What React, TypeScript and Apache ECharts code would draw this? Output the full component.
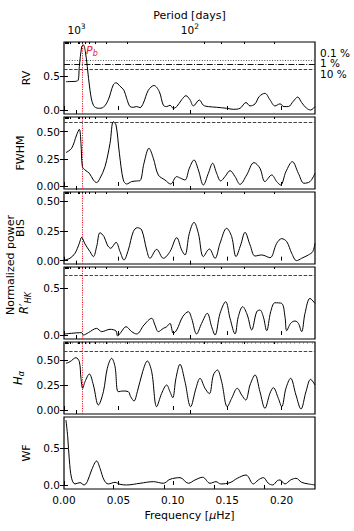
import React, { useEffect, useRef } from "react";
import * as echarts from "echarts";

// ---------- axis ranges & ticks ----------
const FREQ_MIN = 0;
const FREQ_MAX = 0.2307;
const freqTicks = [0, 0.05, 0.1, 0.15, 0.2];
const periodMajorDays = [1000, 100];
const periodMinorDays = [9000, 8000, 7000, 6000, 5000, 4000, 3000, 2000, 900, 800, 700, 600, 500, 400, 300, 200, 90, 80, 70, 60];
const wfTopTicks = [0.0453, 0.0919, 0.1379, 0.1838];
const pbFreq = 0.0172;

// ---------- FAP levels ----------
const fapLabels = ["0.1 %", "1 %", "10 %"];
const rvFap = [0.735, 0.676, 0.6];
const fwhmFap10 = 0.59;
const rhkFap10 = 0.643;
const haFap10 = 0.59;

// ---------- periodogram data ----------
const rvFreq = [0.0018, 0.0123, 0.0141, 0.0162, 0.0178, 0.0196, 0.0214, 0.0239, 0.027, 0.0316, 0.0362, 0.0407, 0.0453, 0.0478, 0.0515, 0.0551, 0.0576, 0.0607, 0.0637, 0.0668, 0.0699, 0.0729, 0.0775, 0.0827, 0.0876, 0.0913, 0.0944, 0.0974, 0.1005, 0.1036, 0.1081, 0.1121, 0.1158, 0.1189, 0.1244, 0.1281, 0.1327, 0.1403, 0.1495, 0.1556, 0.1618, 0.1673, 0.171, 0.1756, 0.1795, 0.1847, 0.1893, 0.1939, 0.1985, 0.2022, 0.2062, 0.2108, 0.2148, 0.2184, 0.223, 0.2267, 0.2307];
const rvPower = [0.417, 0.426, 0.64, 0.93, 0.956, 0.86, 0.64, 0.29, 0.07, 0.025, 0.04, 0.15, 0.37, 0.4, 0.35, 0.29, 0.17, 0.05, 0.04, 0.05, 0.035, 0.1, 0.29, 0.36, 0.27, 0.07, 0.05, 0.07, 0.025, 0.05, 0.15, 0.21, 0.15, 0.06, 0.147, 0.07, 0.05, 0.04, 0.025, 0.01, 0.025, 0.11, 0.06, 0.09, 0.2, 0.245, 0.15, 0.06, 0.09, 0.05, 0.05, 0.13, 0.19, 0.11, 0.025, 0.0, 0.05];

const fwhmFreq = [0.0018, 0.007, 0.0116, 0.0141, 0.0156, 0.0169, 0.0193, 0.0233, 0.027, 0.03, 0.0331, 0.0377, 0.0423, 0.0453, 0.0478, 0.0509, 0.0545, 0.0576, 0.0622, 0.0668, 0.0699, 0.0735, 0.0781, 0.0821, 0.0867, 0.0928, 0.098, 0.1036, 0.1072, 0.1112, 0.1152, 0.1195, 0.1235, 0.1281, 0.1327, 0.1366, 0.1403, 0.144, 0.148, 0.1526, 0.1572, 0.1618, 0.1679, 0.1746, 0.1801, 0.1847, 0.1909, 0.1955, 0.1991, 0.204, 0.2099, 0.2154, 0.2206, 0.2261, 0.2307];
const fwhmPower = [0.307, 0.347, 0.47, 0.522, 0.393, 0.178, 0.147, 0.117, 0.055, 0.031, 0.071, 0.178, 0.393, 0.592, 0.562, 0.301, 0.055, 0.018, 0.04, 0.046, 0.049, 0.209, 0.347, 0.255, 0.101, 0.055, 0.018, 0.086, 0.071, 0.055, 0.163, 0.239, 0.147, 0.009, 0.117, 0.209, 0.117, 0.046, 0.086, 0.141, 0.086, 0.015, 0.101, 0.215, 0.163, 0.04, 0.101, 0.04, 0.009, 0.132, 0.224, 0.117, 0.025, 0.04, 0.117];

const bisFreq = [0.0009, 0.0055, 0.0101, 0.0141, 0.0162, 0.0193, 0.0239, 0.027, 0.03, 0.0331, 0.0368, 0.0398, 0.0429, 0.0478, 0.0515, 0.0551, 0.0591, 0.0637, 0.0674, 0.0714, 0.076, 0.079, 0.0852, 0.0913, 0.0974, 0.1036, 0.1081, 0.1112, 0.1152, 0.1195, 0.1235, 0.1281, 0.1336, 0.1388, 0.1434, 0.1495, 0.1541, 0.1581, 0.1624, 0.1664, 0.171, 0.1756, 0.1817, 0.1893, 0.1955, 0.2001, 0.2047, 0.2093, 0.2138, 0.2184, 0.2246, 0.2286, 0.2307];
const bisPower = [0.006, 0.02, 0.062, 0.146, 0.196, 0.14, 0.076, 0.034, 0.118, 0.235, 0.202, 0.132, 0.104, 0.154, 0.076, 0.006, 0.09, 0.244, 0.277, 0.258, 0.09, 0.02, 0.095, 0.02, 0.076, 0.193, 0.09, 0.048, 0.23, 0.322, 0.23, 0.034, 0.098, 0.02, 0.146, 0.272, 0.202, 0.034, 0.132, 0.238, 0.132, 0.039, 0.048, 0.025, 0.146, 0.185, 0.16, 0.062, 0.0, 0.02, 0.048, 0.076, 0.146];

const rhkFreq = [0.0009, 0.0162, 0.0178, 0.0224, 0.03, 0.0346, 0.0423, 0.0478, 0.0493, 0.0521, 0.057, 0.0622, 0.0668, 0.0735, 0.0806, 0.0836, 0.0867, 0.0913, 0.0944, 0.0974, 0.1005, 0.1036, 0.1091, 0.1143, 0.1173, 0.1219, 0.1265, 0.1317, 0.1357, 0.1388, 0.1434, 0.1486, 0.1526, 0.1572, 0.1602, 0.1642, 0.1685, 0.1725, 0.1771, 0.1801, 0.1832, 0.1863, 0.19, 0.1939, 0.2001, 0.2031, 0.2047, 0.2083, 0.2123, 0.2154, 0.2184, 0.2215, 0.2261, 0.2307];
const rhkPower = [0.011, 0.025, 0.0, 0.025, 0.071, 0.036, 0.061, 0.043, -0.011, 0.025, 0.089, 0.036, 0.011, 0.107, 0.179, 0.107, 0.036, 0.071, 0.089, 0.125, 0.018, 0.054, 0.196, 0.25, 0.179, 0.011, 0.125, 0.232, 0.089, 0.0, 0.232, 0.357, 0.179, 0.011, 0.196, 0.304, 0.214, 0.054, 0.25, 0.268, 0.196, 0.046, 0.25, 0.346, 0.339, 0.196, 0.046, 0.125, 0.15, 0.125, 0.036, 0.232, 0.393, 0.339];

const haFreq = [0.0018, 0.0055, 0.011, 0.0141, 0.0156, 0.0172, 0.0193, 0.0233, 0.027, 0.0316, 0.0362, 0.0398, 0.0438, 0.0469, 0.0499, 0.0545, 0.0591, 0.0613, 0.0643, 0.0674, 0.0723, 0.0766, 0.0806, 0.0852, 0.0898, 0.0944, 0.0974, 0.0999, 0.1029, 0.1066, 0.1112, 0.1164, 0.1213, 0.125, 0.1296, 0.1336, 0.1373, 0.1409, 0.1449, 0.1501, 0.1541, 0.1593, 0.1633, 0.167, 0.171, 0.1756, 0.1801, 0.1847, 0.1893, 0.1924, 0.197, 0.2001, 0.204, 0.2083, 0.2132, 0.2178, 0.2224, 0.2267, 0.2307];
const haPower = [0.467, 0.483, 0.523, 0.483, 0.317, 0.217, 0.283, 0.36, 0.25, 0.05, 0.183, 0.417, 0.517, 0.433, 0.183, 0.19, 0.183, 0.133, 0.09, 0.183, 0.383, 0.49, 0.383, 0.033, 0.167, 0.25, 0.183, 0.123, 0.317, 0.457, 0.283, 0.033, 0.217, 0.317, 0.217, 0.163, 0.35, 0.4, 0.283, 0.033, 0.117, 0.217, 0.15, 0.1, 0.25, 0.35, 0.183, 0.017, 0.167, 0.223, 0.117, 0.033, 0.217, 0.317, 0.15, 0.01, 0.183, 0.307, 0.25];

const wfFreq = [0.0018, 0.0034, 0.0049, 0.007, 0.0101, 0.0147, 0.0184, 0.0214, 0.0254, 0.03, 0.0331, 0.0368, 0.0407, 0.0469, 0.0515, 0.0576, 0.0699, 0.0821, 0.0913, 0.0974, 0.1066, 0.1143, 0.1204, 0.1275, 0.1342, 0.1397, 0.144, 0.1526, 0.1593, 0.1673, 0.174, 0.1786, 0.1832, 0.1878, 0.1918, 0.1961, 0.1985, 0.2031, 0.2083, 0.2132, 0.2184, 0.2246, 0.2307];
const wfPower = [0.886, 0.659, 0.341, 0.091, 0.014, 0.032, 0.0, 0.045, 0.205, 0.327, 0.227, 0.068, 0.014, 0.036, 0.009, 0.0, 0.023, 0.045, 0.023, 0.077, 0.1, 0.023, 0.068, 0.105, 0.023, 0.045, 0.014, 0.032, 0.091, 0.136, 0.014, 0.068, 0.1, 0.023, 0.0, 0.059, 0.068, 0.014, 0.068, 0.091, 0.036, 0.014, 0.0];

// ---------- panel definitions ----------
const panelNames = ["RV", "FWHM", "BIS", "{i|R′}{s|HK}", "{i|H}{s|α}", "WF"];
const panelYMin = [-0.059, -0.028, -0.028, -0.043, -0.04, -0.055];
const panelYMax = [1.0, 0.635, 0.577, 0.73, 0.68, 0.927];
const ticksA = [0, 0.5];
const ticksB = [0, 0.25, 0.5];
const panelYTicks = [ticksA, ticksB, ticksB, ticksA, ticksB, ticksA];
const panelYDecimals = [1, 2, 2, 1, 2, 1];

const FONT = "DejaVu Sans";

function periodToFreq(p: number) {
  return 1e6 / (p * 86400);
}

function buildOption() {
  const tops = [42, 117, 192, 267, 342, 417];
  const H = 72;
  const freqs = [rvFreq, fwhmFreq, bisFreq, rhkFreq, haFreq, wfFreq];
  const powers = [rvPower, fwhmPower, bisPower, rhkPower, haPower, wfPower];
  const dashed = { type: [3.5, 1.6], color: "#444", width: 1 };
  const fapLines: any[] = [
    [
      { yAxis: rvFap[0], lineStyle: { type: [1, 1.6], color: "#555", width: 1 } },
      { yAxis: rvFap[1], lineStyle: { type: [6, 1.6, 1, 1.6], color: "#111", width: 1 } },
      { yAxis: rvFap[2], lineStyle: dashed },
    ],
    [{ yAxis: fwhmFap10, lineStyle: dashed }],
    [],
    [{ yAxis: rhkFap10, lineStyle: dashed }],
    [{ yAxis: haFap10, lineStyle: dashed }],
    [],
  ];
  const nameGaps = [30, 36, 32, 30, 35, 30];
  const majorFreqs = periodMajorDays.map(periodToFreq);
  const minorFreqs = periodMinorDays.map(periodToFreq).filter((f) => f <= FREQ_MAX);

  const grids: any[] = [];
  const xAxes: any[] = [];
  const yAxes: any[] = [];
  const series: any[] = [];

  const tickStyle = { color: "#000", width: 1 };
  const labelBase = { color: "#000", fontFamily: FONT, fontSize: 10.5 };

  for (let i = 0; i < 6; i++) {
    grids.push({
      left: 64,
      top: tops[i],
      width: 251,
      height: H,
      show: true,
      borderColor: "#000",
      borderWidth: 1.2,
      backgroundColor: "transparent",
    });
    const bottomIdx = xAxes.length;
    xAxes.push({
      gridIndex: i,
      type: "value",
      min: FREQ_MIN,
      max: FREQ_MAX,
      position: "bottom",
      axisLine: { show: false },
      splitLine: { show: false },
      axisTick: { show: true, inside: true, length: 4, customValues: freqTicks, lineStyle: tickStyle },
      axisLabel: {
        show: i === 5,
        customValues: freqTicks,
        formatter: (v: number) => v.toFixed(2),
        margin: 5,
        ...labelBase,
      },
      name: i === 5 ? "Frequency [{m|μ}Hz]" : "",
      nameLocation: "middle",
      nameGap: 21,
      nameTextStyle: {
        color: "#000",
        fontFamily: FONT,
        fontSize: 11,
        rich: { m: { fontStyle: "italic", fontFamily: FONT, fontSize: 11, color: "#000" } },
      },
    });
    if (i < 5) {
      xAxes.push({
        gridIndex: i,
        type: "value",
        min: FREQ_MIN,
        max: FREQ_MAX,
        position: "top",
        axisLine: { show: false },
        splitLine: { show: false },
        axisTick: { show: true, inside: true, length: 4, customValues: majorFreqs, lineStyle: tickStyle },
        axisLabel: {
          show: i === 0,
          customValues: majorFreqs,
          margin: 4,
          formatter: (v: number) => (v < 0.05 ? "{b|10}{p|3}" : "{b|10}{p|2}"),
          ...labelBase,
          rich: {
            b: { fontFamily: FONT, fontSize: 10.5, color: "#000", lineHeight: 16, verticalAlign: "middle" },
            p: { fontFamily: FONT, fontSize: 7.5, color: "#000", verticalAlign: "top" },
          },
        },
        name: i === 0 ? "Period [days]" : "",
        nameLocation: "middle",
        nameGap: 21,
        nameTextStyle: { color: "#000", fontFamily: FONT, fontSize: 11 },
      });
      xAxes.push({
        gridIndex: i,
        type: "value",
        min: FREQ_MIN,
        max: FREQ_MAX,
        position: "top",
        axisLine: { show: false },
        splitLine: { show: false },
        axisTick: { show: true, inside: true, length: 2, customValues: minorFreqs, lineStyle: tickStyle },
        axisLabel: { show: false },
      });
    }
    if (i === 4) {
      xAxes.push({
        gridIndex: i,
        type: "value",
        min: FREQ_MIN,
        max: FREQ_MAX,
        interval: 0.004,
        position: "top",
        axisLine: { show: false },
        splitLine: { show: false },
        axisTick: { show: true, inside: true, length: 1.5, lineStyle: { color: "#666", width: 1 } },
        axisLabel: { show: false },
      });
    }
    if (i === 5) {
      xAxes.push({
        gridIndex: i,
        type: "value",
        min: FREQ_MIN,
        max: FREQ_MAX,
        position: "top",
        axisLine: { show: false },
        splitLine: { show: false },
        axisTick: { show: true, inside: true, length: 4, customValues: wfTopTicks, lineStyle: tickStyle },
        axisLabel: { show: false },
      });
    }

    const leftIdx = yAxes.length;
    const dec = panelYDecimals[i];
    yAxes.push({
      gridIndex: i,
      type: "value",
      min: panelYMin[i],
      max: panelYMax[i],
      position: "left",
      axisLine: { show: false },
      splitLine: { show: false },
      axisTick: { show: true, inside: true, length: 4, customValues: panelYTicks[i], lineStyle: tickStyle },
      axisLabel: {
        customValues: panelYTicks[i],
        formatter: (v: number) => v.toFixed(dec),
        margin: 4,
        ...labelBase,
      },
      name: panelNames[i],
      nameLocation: "middle",
      nameRotate: 90,
      nameGap: nameGaps[i],
      nameTextStyle: {
        color: "#000",
        fontFamily: FONT,
        fontSize: 11,
        rich: {
          i: { fontStyle: "italic", fontFamily: FONT, fontSize: 11.5, color: "#000", lineHeight: 16, verticalAlign: "middle" },
          s: { fontStyle: "italic", fontFamily: FONT, fontSize: 8, color: "#000", verticalAlign: "bottom" },
        },
      },
    });
    yAxes.push({
      gridIndex: i,
      type: "value",
      min: panelYMin[i],
      max: panelYMax[i],
      position: "right",
      axisLine: { show: false },
      splitLine: { show: false },
      axisTick: { show: true, inside: true, length: 4, customValues: panelYTicks[i], lineStyle: tickStyle },
      axisLabel: { show: false },
    });

    const mlData: any[] = [...fapLines[i]];
    if (i < 5) {
      mlData.push({ xAxis: pbFreq, lineStyle: { type: [1.2, 1.2], color: "#e8202a", width: 1 } });
    }
    series.push({
      type: "line",
      xAxisIndex: bottomIdx,
      yAxisIndex: leftIdx,
      data: freqs[i].map((f, k) => [f, powers[i][k]]),
      showSymbol: false,
      smooth: 0.35,
      lineStyle: { color: "#000", width: 1 },
      z: 3,
      markLine: {
        silent: true,
        symbol: "none",
        precision: 5,
        label: { show: false },
        data: mlData,
        z: 2,
      },
    });
  }

  const fapText = (txt: string, y: number) => ({
    type: "text",
    x: 320,
    y,
    style: { text: txt, fontFamily: FONT, fontSize: 10.5, lineHeight: 10, fill: "#000", verticalAlign: "middle" },
  });

  const graphic: any[] = [
    {
      type: "text",
      x: 86,
      y: 43,
      style: {
        text: "{p|P}{b|b}",
        rich: {
          p: { fontFamily: FONT, fontStyle: "italic", fontSize: 11, fill: "#e8202a", lineHeight: 14, verticalAlign: "middle" },
          b: { fontFamily: FONT, fontStyle: "italic", fontSize: 8, fill: "#e8202a", verticalAlign: "bottom" },
        },
      },
    },
    fapText(fapLabels[0], 52.5),
    fapText(fapLabels[1], 63),
    fapText(fapLabels[2], 73.5),
    {
      type: "text",
      x: 10,
      y: 265,
      rotation: Math.PI / 2,
      style: { text: "Normalized power", fontFamily: FONT, fontSize: 11, fill: "#000", align: "center", verticalAlign: "middle" },
    },
  ];

  return {
    animation: false,
    backgroundColor: "#fff",
    grid: grids,
    xAxis: xAxes,
    yAxis: yAxes,
    series,
    graphic,
  };
}

export default function App() {
  const ref = useRef<HTMLDivElement>(null);
  useEffect(() => {
    if (!ref.current) return;
    const chart = echarts.init(ref.current, undefined, { renderer: "svg" });
    chart.setOption(buildOption() as any);
    return () => chart.dispose();
  }, []);
  return <div ref={ref} style={{ position: "absolute", left: 0, top: 0, width: 354, height: 531 }} />;
}
